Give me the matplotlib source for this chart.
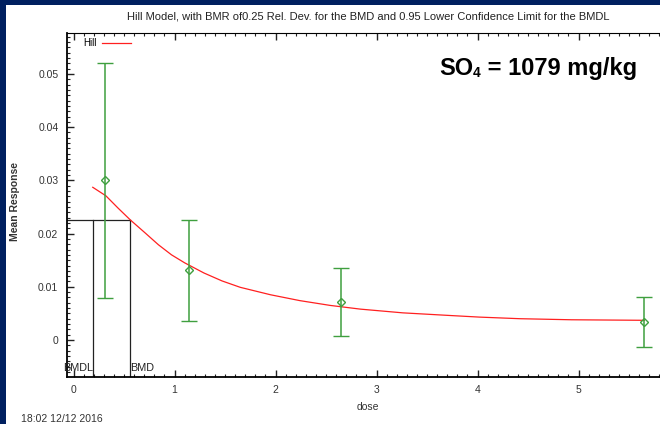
import numpy as np
import matplotlib
matplotlib.use('Agg')
import matplotlib.pyplot as plt
from matplotlib.patches import Rectangle
from matplotlib.ticker import MultipleLocator

plt.rcParams['font.family'] = ['Liberation Sans', 'DejaVu Sans']

# observed group means with lower / upper confidence limits
dose = [0.31, 1.14, 2.65, 5.65]
mean = [0.0301, 0.0132, 0.0071, 0.0033]
lower = [0.0078, 0.0036, 0.0008, -0.0014]
upper = [0.0521, 0.0226, 0.0135, 0.0080]

# fitted Hill curve
curve_dose = [0.19, 0.32, 0.44, 0.56, 0.71, 0.84, 0.97, 1.10, 1.29, 1.47,
              1.65, 1.95, 2.24, 2.54, 2.84, 3.26, 3.73, 4.02, 4.42, 4.93, 5.65]
curve_resp = [0.0287, 0.0271, 0.0248, 0.0226, 0.0201, 0.0179, 0.0160, 0.0145,
              0.0126, 0.0111, 0.0099, 0.0085, 0.0074, 0.0065, 0.0058, 0.0051,
              0.0046, 0.0043, 0.0040, 0.0038, 0.0037]

bmdl = 0.196
bmd = 0.56
bmr_resp = 0.0226

NAVY = '#002060'
GREEN = '#3f9f3f'

fig = plt.figure(figsize=(6.6, 4.24), dpi=100, facecolor=NAVY)
fig.patches.append(Rectangle((6 / 660, 0), 1, (424 - 5) / 424,
                             transform=fig.transFigure, facecolor='white',
                             edgecolor='none', zorder=-10))

ax = fig.add_axes([66.7 / 660, 47.3 / 424, 602.8 / 660, 343.7 / 424])
ax.set_zorder(1)
ax.set_xlim(-0.068, 5.9)
ax.set_ylim(-0.0069, 0.0577)

ax.plot(curve_dose, curve_resp, color='#ff2020', lw=0.9, label='Hill', zorder=3)

yerr = [np.subtract(mean, lower), np.subtract(upper, mean)]
ax.errorbar(dose, mean, yerr=yerr, fmt='D', ms=4.5, mfc='none', mec=GREEN,
            mew=1.0, ecolor=GREEN, elinewidth=1.1, capsize=6, capthick=1.1,
            zorder=4)

# BMD / BMDL markers
ax.plot([-0.068, bmd], [bmr_resp, bmr_resp], color='#222', lw=0.9, zorder=2)
ax.plot([bmdl, bmdl], [-0.0069, bmr_resp], color='#222', lw=0.9, zorder=2)
ax.plot([bmd, bmd], [-0.0069, bmr_resp], color='#222', lw=0.9, zorder=2)
ax.text(bmdl, -0.0058, 'BMDL', ha='right', va='baseline', fontsize=7.8,
        color='#222')
ax.text(bmd, -0.0058, 'BMD', ha='left', va='baseline', fontsize=7.8,
        color='#222')

ax.set_yticks([0, 0.01, 0.02, 0.03, 0.04, 0.05])
ax.set_yticklabels(['0', '0.01', '0.02', '0.03', '0.04', '0.05'])
ax.set_xticks([0, 1, 2, 3, 4, 5])
ax.xaxis.set_minor_locator(MultipleLocator(0.1))
ax.yaxis.set_minor_locator(MultipleLocator(0.001))
ax.tick_params(which='both', direction='in', top=True, right=False,
               colors='#222', labelcolor='#333', labelsize=7.5)
ax.tick_params(which='major', length=5, width=1, pad=6)
ax.tick_params(which='minor', length=2.5, width=0.8)
ax.spines['right'].set_visible(False)
ax.spines['left'].set_linewidth(1.3)
ax.spines['bottom'].set_linewidth(1.3)
ax.spines['top'].set_linewidth(0.8)

ax.set_title('Hill Model, with BMR of0.25 Rel. Dev. for the BMD and 0.95 '
             'Lower Confidence Limit for the BMDL', fontsize=8, pad=9.5,
             color='#222')
ax.set_xlabel('dose', fontsize=7.5, color='#333')
ax.xaxis.set_label_coords(0.5, -0.075)
ax.set_ylabel('Mean Response', fontsize=7.5, color='#333', fontweight='bold')
ax.yaxis.set_label_coords(-0.077, 0.51)

ax.legend(loc='upper left', markerfirst=False, frameon=False, fontsize=7,
          handlelength=3.0, handletextpad=0.6, borderpad=0, borderaxespad=0,
          bbox_to_anchor=((83 - 66.7) / 602.8, (376.7 - 38) / 343.7))

# annotation with small "4"
t1 = ax.text(439 / 660, 1 - 75 / 424, 'SO', transform=fig.transFigure,
             fontsize=17, fontweight='bold', ha='left', va='baseline')
t2 = ax.annotate('4', xy=(1, 0), xycoords=t1, fontsize=10,
                 fontweight='bold', ha='left', va='bottom')
ax.annotate(' = 1079 mg/kg', xy=(1, 0), xycoords=(t2, t1), fontsize=17,
            fontweight='bold', ha='left', va='bottom')

fig.text(21 / 660, 1 - 414 / 424, '18:02 12/12 2016', fontsize=7.5,
         color='#333', ha='left', va='top')

fig.savefig('out.png', dpi=100, facecolor=NAVY)
